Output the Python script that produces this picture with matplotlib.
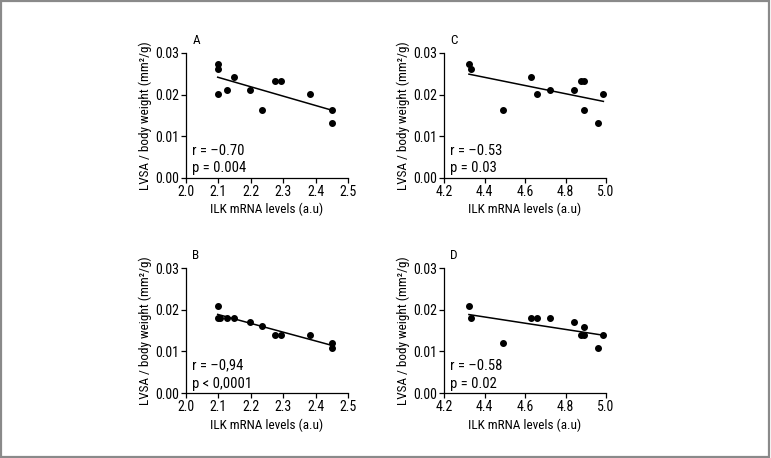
import numpy as np
import matplotlib
matplotlib.use("Agg")
import matplotlib.pyplot as plt
from matplotlib.patches import Rectangle

plt.rcParams['font.family'] = ['Roboto Condensed', 'Liberation Sans', 'DejaVu Sans']
plt.rcParams['font.size'] = 9

# ILK mRNA levels, left panels (A, B) and right panels (C, D)
x_left = [2.098, 2.098, 2.100, 2.126, 2.147, 2.197, 2.234, 2.274, 2.293, 2.384, 2.452, 2.452]
x_left_b = [2.098, 2.098, 2.105, 2.126, 2.147, 2.197, 2.234, 2.274, 2.293, 2.384, 2.452, 2.452]
x_right = [4.323, 4.334, 4.492, 4.632, 4.660, 4.721, 4.841, 4.877, 4.890, 4.890, 4.959, 4.987]

# LVSA / body weight
y_a = [0.0274, 0.0262, 0.0202, 0.0212, 0.0242, 0.0212, 0.0162, 0.0232, 0.0232, 0.0202, 0.0162, 0.0131]
y_b = [0.0210, 0.0180, 0.0181, 0.0180, 0.0180, 0.0170, 0.0160, 0.0140, 0.0140, 0.0140, 0.0119, 0.0109]
y_c = [0.0274, 0.0262, 0.0162, 0.0242, 0.0202, 0.0212, 0.0212, 0.0232, 0.0232, 0.0162, 0.0131, 0.0202]
y_d = [0.0210, 0.0180, 0.0119, 0.0180, 0.0180, 0.0180, 0.0170, 0.0140, 0.0140, 0.0159, 0.0109, 0.0139]

panels = [
    ("A", x_left, y_a, "r = –0.70\np = 0.004"),
    ("C", x_right, y_c, "r = –0.53\np = 0.03"),
    ("B", x_left_b, y_b, "r = –0,94\np < 0,0001"),
    ("D", x_right, y_d, "r = –0.58\np = 0.02"),
]

fig = plt.figure(figsize=(7.71, 4.58), dpi=100)
fig.patches.append(Rectangle((0.001, 0.002), 0.997, 0.995, transform=fig.transFigure,
                             fill=False, edgecolor='#8a8a8a', linewidth=1.6))

positions = [(0.2412, 0.6114), (0.5759, 0.6114), (0.2412, 0.1419), (0.5759, 0.1419)]

for (label, xs, ys, stats), (left, bottom) in zip(panels, positions):
    ax = fig.add_axes([left, bottom, 0.2101, 0.2729])
    ax.scatter(xs, ys, s=16, color='black', zorder=3)
    k, b = np.polyfit(xs, ys, 1)
    xl = np.array([min(xs), max(xs)])
    ax.plot(xl, k * xl + b, color='black', linewidth=1.1)
    if xs[0] < 3:
        ax.set_xlim(2.0, 2.5)
        ax.set_xticks([2.0, 2.1, 2.2, 2.3, 2.4, 2.5])
    else:
        ax.set_xlim(4.2, 5.0)
        ax.set_xticks([4.2, 4.4, 4.6, 4.8, 5.0])
    ax.set_ylim(0, 0.03)
    ax.set_yticks([0.00, 0.01, 0.02, 0.03])
    ax.set_yticklabels(['0.00', '0.01', '0.02', '0.03'])
    ax.spines['top'].set_visible(False)
    ax.spines['right'].set_visible(False)
    ax.tick_params(direction='out', length=3.5, width=0.9, pad=1.5, labelsize=10)
    for sp in ('left', 'bottom'):
        ax.spines[sp].set_linewidth(0.9)
    ax.set_xlabel("ILK mRNA levels (a.u)", labelpad=3, fontsize=9.5)
    ax.set_ylabel("LVSA / body weight (mm²/g)", labelpad=2, fontsize=9.5)
    ax.text(0.04, 0.02, stats, transform=ax.transAxes, ha='left', va='bottom',
            linespacing=1.35, fontsize=10.5)
    ax.text(0.04, 1.05, label, transform=ax.transAxes, ha='left', va='bottom',
            fontsize=9.5)

fig.savefig("out.png", dpi=100)
